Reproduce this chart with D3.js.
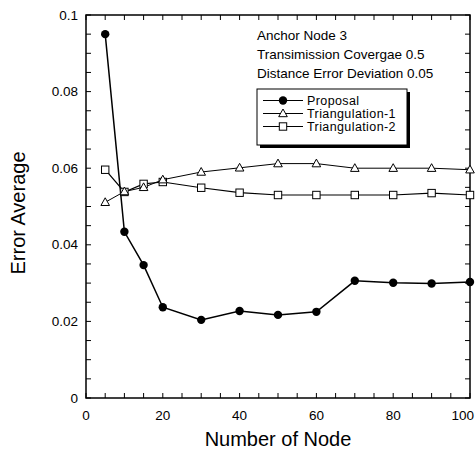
<!DOCTYPE html>
<html><head><meta charset="utf-8">
<script src="https://cdn.jsdelivr.net/npm/d3@7"></script>
<style>body{margin:0;background:#fff}svg{display:block}text{font-family:"Liberation Sans",Arial,sans-serif;fill:#000}</style>
</head><body>
<script>
const nodes = [5,10,15,20,30,40,50,60,70,80,90,100];
const proposal = [0.0950,0.0434,0.0347,0.0237,0.0204,0.0227,0.0217,0.0225,0.0306,0.0301,0.0299,0.0303];
const tri1 = [0.0511,0.0539,0.0550,0.0570,0.0590,0.0601,0.0612,0.0612,0.0600,0.0600,0.0600,0.0596];
const tri2 = [0.0596,0.0538,0.0559,0.0564,0.0549,0.0536,0.0530,0.0530,0.0530,0.0530,0.0535,0.0530];
const seriesNames = ["Proposal","Triangulation-1","Triangulation-2"];
const xTicks = [0,20,40,60,80,100];
const yTicks = [0,0.02,0.04,0.06,0.08,0.1];
const notes = ["Anchor Node 3","Transimission Covergae 0.5","Distance Error Deviation 0.05"];

const W=475,H=450;
const svg=d3.select("body").append("svg").attr("width",W).attr("height",H);
const x=d3.scaleLinear().domain([0,100]).range([86,470]);
const y=d3.scaleLinear().domain([0,0.1]).range([398,15]);

svg.append("rect").attr("x",86).attr("y",15).attr("width",384).attr("height",383)
  .attr("fill","none").attr("stroke","#000").attr("stroke-width",1.5);

const xMinor=d3.range(0,101,5), yMinor=d3.range(0,0.1001,0.005);
const tk=5;
const g=svg.append("g").attr("stroke","#000").attr("stroke-width",1);
xMinor.forEach(v=>{
  g.append("line").attr("x1",x(v)).attr("x2",x(v)).attr("y1",398).attr("y2",398-tk);
  g.append("line").attr("x1",x(v)).attr("x2",x(v)).attr("y1",15).attr("y2",15+tk);
});
yMinor.forEach(v=>{
  g.append("line").attr("y1",y(v)).attr("y2",y(v)).attr("x1",86).attr("x2",86+tk);
  g.append("line").attr("y1",y(v)).attr("y2",y(v)).attr("x1",470).attr("x2",470-tk);
});
xTicks.forEach(v=>{
  const last = v===100;
  svg.append("text").attr("x",last?474:x(v)).attr("y",420)
    .attr("text-anchor",last?"end":"middle").attr("font-size",13.5).text(v);
});
yTicks.forEach(v=>{
  svg.append("text").attr("x",78).attr("y",y(v)+4.5).attr("text-anchor","end").attr("font-size",13.5).text(v);
});
svg.append("text").attr("x",278).attr("y",446).attr("text-anchor","middle").attr("font-size",20).text("Number of Node");
svg.append("text").attr("transform","translate(25,213) rotate(-90)").attr("text-anchor","middle").attr("font-size",20).text("Error Average");

const line=d3.line().x((d,i)=>x(nodes[i])).y(d=>y(d));
const series=[proposal,tri1,tri2];
const widths=[1.5,1,1.2];
series.forEach((s,k)=>{
  svg.append("path").datum(s).attr("d",line).attr("fill","none").attr("stroke","#000").attr("stroke-width",widths[k]);
});
function marker(sel,k,cx,cy){
  if(k===0) sel.append("circle").attr("cx",cx).attr("cy",cy).attr("r",4.2).attr("fill","#000");
  else if(k===1) sel.append("path").attr("d",`M${cx},${cy-4.5}L${cx+4.3},${cy+3.2}L${cx-4.3},${cy+3.2}Z`).attr("fill","#fff").attr("stroke","#000").attr("stroke-width",1);
  else sel.append("rect").attr("x",cx-3.7).attr("y",cy-3.7).attr("width",7.4).attr("height",7.4).attr("fill","#fff").attr("stroke","#000").attr("stroke-width",1);
}
[2,1,0].forEach(k=>{
  series[k].forEach((v,i)=>marker(svg,k,x(nodes[i]),y(v)));
});

notes.forEach((t,i)=>{
  svg.append("text").attr("x",257).attr("y",40+i*19).attr("font-size",13.5).text(t);
});
svg.append("rect").attr("x",260).attr("y",92).attr("width",150).attr("height",56).attr("fill","#000");
svg.append("rect").attr("x",257).attr("y",89).attr("width",150).attr("height",56).attr("fill","#fff").attr("stroke","#000").attr("stroke-width",1);
seriesNames.forEach((n,k)=>{
  const ly=100.5+k*13;
  svg.append("line").attr("x1",263).attr("x2",303).attr("y1",ly).attr("y2",ly).attr("stroke","#000").attr("stroke-width",1);
  marker(svg,k,283,ly);
  svg.append("text").attr("x",307).attr("y",ly+4.3).attr("font-size",12.5).attr("letter-spacing",0.4).text(n);
});
</script>
</body></html>
